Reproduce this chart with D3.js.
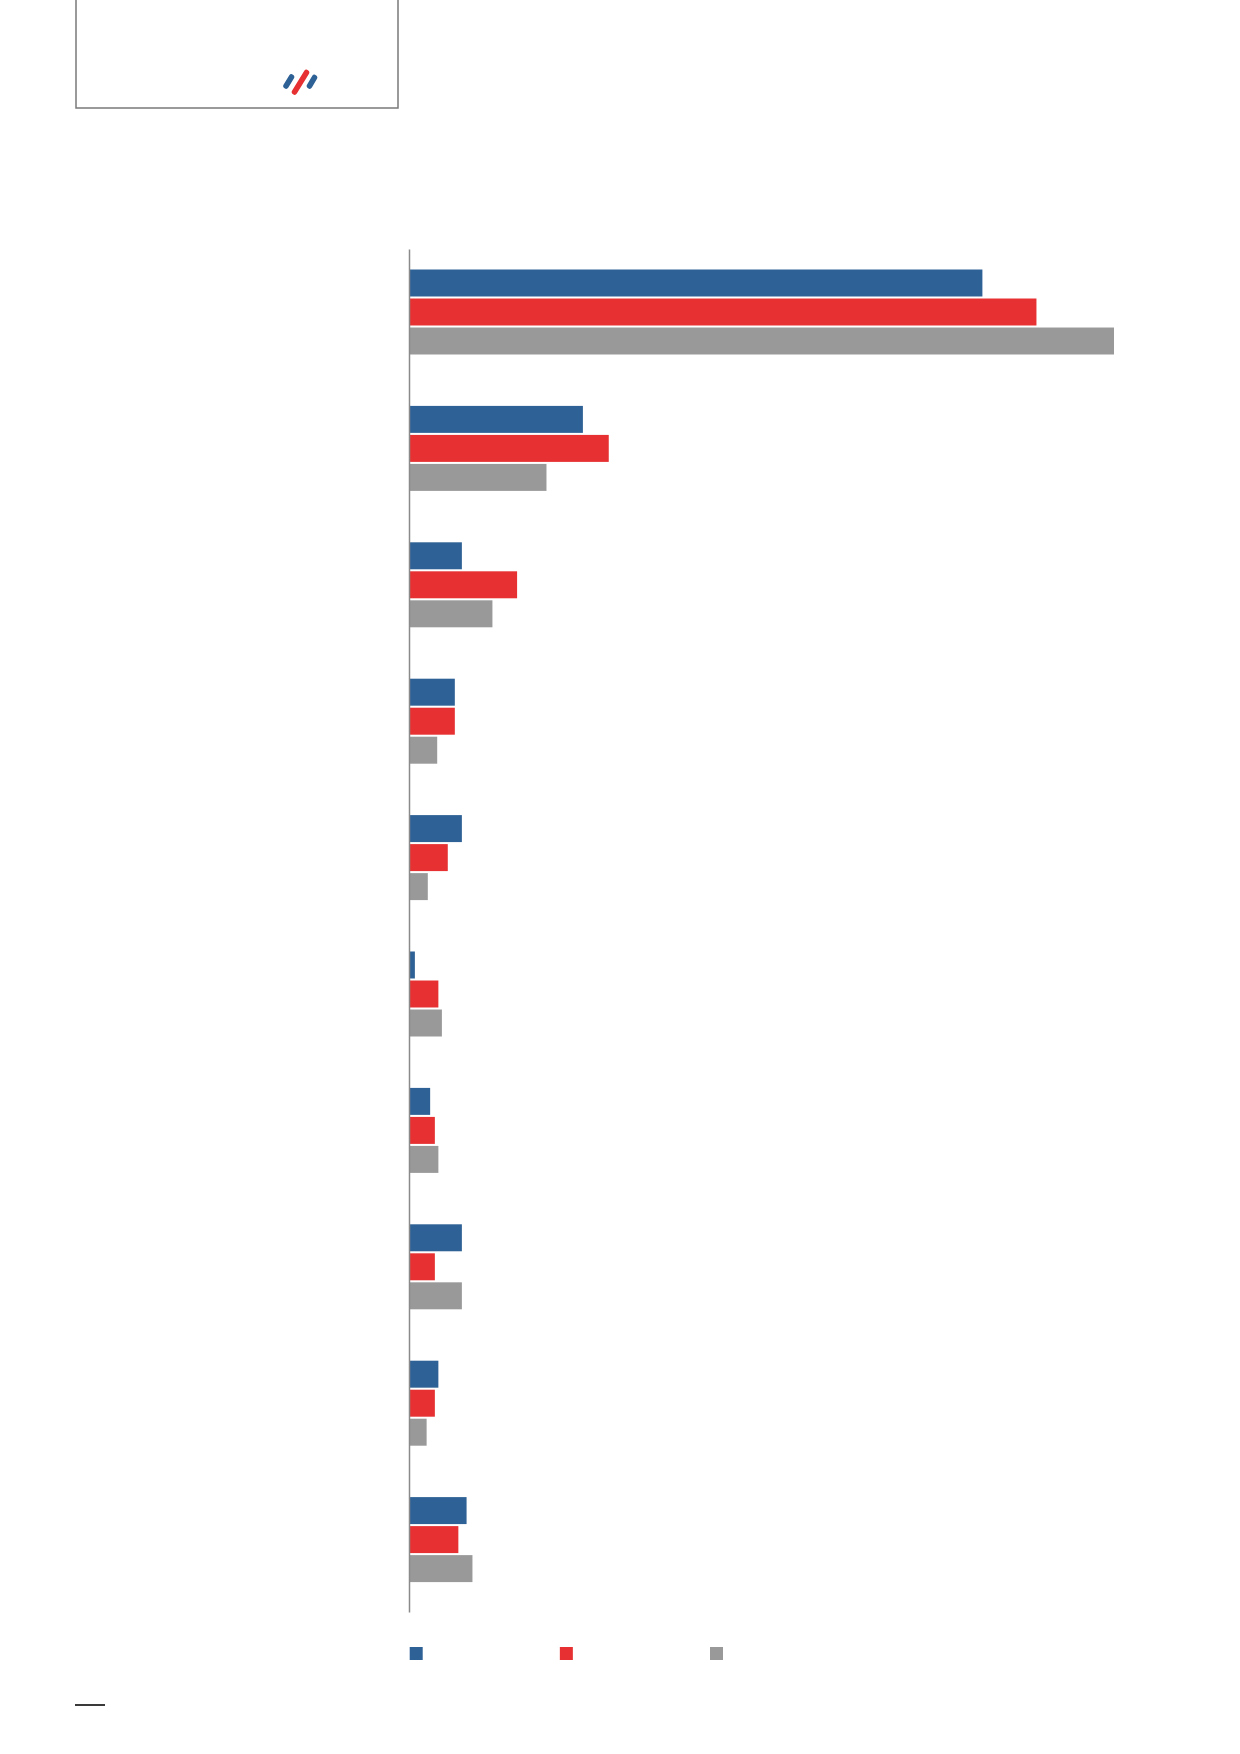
<!DOCTYPE html>
<html>
<head>
<meta charset="utf-8">
<script src="https://cdn.jsdelivr.net/npm/d3@7/dist/d3.min.js"></script>
<style>
  html, body { margin: 0; padding: 0; background: #fff; }
  svg { display: block; }
</style>
</head>
<body>
<script>
// ---- data (arbitrary units) ----
const categories = ["c1","c2","c3","c4","c5","c6","c7","c8","c9","c10"];
const seriesNames = ["s1","s2","s3"];
const seriesBlue = [48.8, 14.8, 4.5, 3.9, 4.5, 0.5, 1.8, 4.5, 2.5, 4.9];
const seriesRed  = [53.4, 17.0, 9.2, 3.9, 3.3, 2.5, 2.2, 2.2, 2.2, 4.2];
const seriesGray = [60.0, 11.7, 7.1, 2.4, 1.6, 2.8, 2.5, 4.5, 1.5, 5.4];
const seriesColors = ["#2e6195", "#e63031", "#999999"];

const W = 1240, H = 1754;
const svg = d3.select("body").append("svg").attr("width", W).attr("height", H);

// header box
svg.append("path")
  .attr("d", "M76,0 V108 H398 V0")
  .attr("fill", "none").attr("stroke", "#7a7a7a").attr("stroke-width", 1.5);

// logo
const logo = svg.append("g").attr("stroke-linecap", "round").attr("stroke-width", 5.5);
logo.append("line").attr("x1", 286).attr("y1", 86).attr("x2", 291.5).attr("y2", 77).attr("stroke", "#2e6195");
logo.append("line").attr("x1", 294.5).attr("y1", 92).attr("x2", 306.5).attr("y2", 72.5).attr("stroke", "#e63031");
logo.append("line").attr("x1", 309.5).attr("y1", 86).attr("x2", 314.5).attr("y2", 77.5).attr("stroke", "#2e6195");

// chart
const x0 = 409;
const x = d3.scaleLinear().domain([0, 60]).range([x0, x0 + 705]);
const step = 136.4, band = 85;
const y = d3.scaleBand().domain(categories)
  .range([269.5, 269.5 + 9 * step + band])
  .paddingInner(1 - band / step).paddingOuter(0);
const ySub = d3.scaleBand().domain(seriesNames).range([0, y.bandwidth()]).paddingInner(0.07);

const rows = categories.map((c, i) => ({
  cat: c,
  vals: [seriesBlue[i], seriesRed[i], seriesGray[i]]
}));

const g = svg.append("g");
const grp = g.selectAll("g.cat").data(rows).join("g")
  .attr("class", "cat")
  .attr("transform", d => `translate(0,${y(d.cat)})`);

grp.selectAll("rect").data(d => d.vals.map((v, j) => ({ v, s: seriesNames[j], j })))
  .join("rect")
  .attr("x", x(0))
  .attr("y", d => ySub(d.s))
  .attr("width", d => x(d.v) - x(0))
  .attr("height", ySub.bandwidth())
  .attr("fill", d => seriesColors[d.j]);

// vertical axis line
const yAxis = d3.axisLeft(d3.scaleLinear().range([249, 1612])).ticks(0).tickSize(0).tickFormat("");
const ax = svg.append("g").attr("transform", `translate(${x0},0)`).call(yAxis);
ax.select(".domain").attr("stroke", "#8a8a8a").attr("stroke-width", 1.5);

// legend
const legendX = d3.scalePoint().domain(seriesNames).range([409.7, 710]);
svg.append("g").selectAll("rect").data(seriesNames).join("rect")
  .attr("x", d => legendX(d))
  .attr("y", 1647)
  .attr("width", 13).attr("height", 13)
  .attr("fill", (d, i) => seriesColors[i]);

// footer rule
svg.append("line").attr("x1", 75).attr("x2", 105).attr("y1", 1705).attr("y2", 1705)
  .attr("stroke", "#3a3a3a").attr("stroke-width", 2);
</script>
</body>
</html>
